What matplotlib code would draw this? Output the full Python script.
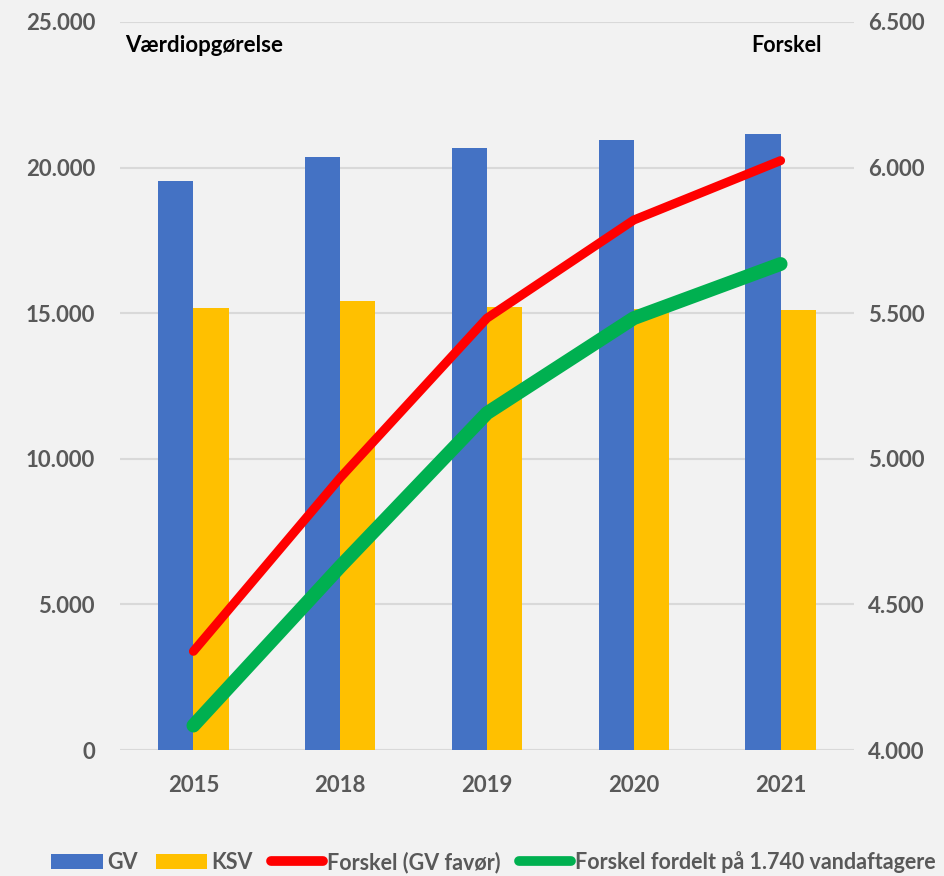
import matplotlib.pyplot as plt
import numpy as np
from matplotlib.ticker import FuncFormatter, MultipleLocator
from matplotlib.patches import Patch
from matplotlib.lines import Line2D

plt.rcParams['font.family'] = ['Lato', 'DejaVu Sans']
plt.rcParams['font.weight'] = 'bold'

# data
years = ['2015', '2018', '2019', '2020', '2021']
gv = [19550, 20370, 20670, 20950, 21140]
ksv = [15190, 15420, 15210, 15140, 15110]
forskel = [4339, 4935, 5483, 5820, 6024]
forskel_fordelt = [4084, 4630, 5157, 5483, 5669]

BLUE = '#4472C4'
YELLOW = '#FFC000'
RED = '#FF0000'
GREEN = '#00B050'
BG = '#F2F2F2'
GRAY = '#595959'


def dot_fmt(v, pos):
    return f'{int(round(v)):,}'.replace(',', '.')


fig = plt.figure(figsize=(9.45, 8.76), dpi=100, facecolor=BG)
ax = fig.add_axes([0.127, 0.1438, 0.7767, 0.8311], facecolor=BG)

x = np.arange(len(years))
w = 0.24
ax.bar(x - w / 2, gv, w, color=BLUE, zorder=2)
ax.bar(x + w / 2, ksv, w, color=YELLOW, zorder=2)

ax.set_xlim(-0.5, len(years) - 0.5)
ax.set_ylim(0, 25000)
ax.yaxis.set_major_locator(MultipleLocator(5000))
ax.yaxis.set_major_formatter(FuncFormatter(dot_fmt))
ax.set_xticks(x)
ax.set_xticklabels(years)
ax.grid(axis='y', color='#D9D9D9', linewidth=1.5, zorder=0)
ax.set_axisbelow(True)
for s in ax.spines.values():
    s.set_visible(False)
ax.tick_params(axis='y', length=0, pad=18, labelsize=16, labelcolor=GRAY)
ax.tick_params(axis='x', length=0, pad=18, labelsize=16, labelcolor=GRAY)

ax2 = ax.twinx()
ax2.plot(x, forskel, color=RED, lw=6.5, solid_capstyle='round',
         solid_joinstyle='round', zorder=3)
ax2.plot(x, forskel_fordelt, color=GREEN, lw=10, solid_capstyle='round',
         solid_joinstyle='round', zorder=3)
ax2.set_ylim(4000, 6500)
ax2.yaxis.set_major_locator(MultipleLocator(500))
ax2.yaxis.set_major_formatter(FuncFormatter(dot_fmt))
for s in ax2.spines.values():
    s.set_visible(False)
ax2.tick_params(axis='y', length=0, pad=10, labelsize=16, labelcolor=GRAY)

fig.text(125 / 945, 1 - 45 / 876, 'Værdiopgørelse', fontsize=16,
         fontweight='bold', color='black', va='center', ha='left')
fig.text(822 / 945, 1 - 45 / 876, 'Forskel', fontsize=15.5,
         fontweight='bold', color='black', va='center', ha='right')

handles = [
    Patch(facecolor=BLUE),
    Patch(facecolor=YELLOW),
    Line2D([], [], color=RED, lw=7, solid_capstyle='round'),
    Line2D([], [], color=GREEN, lw=7, solid_capstyle='round'),
]
labels = ['GV', 'KSV', 'Forskel (GV favør)', 'Forskel fordelt på 1.740 vandaftagere']
leg = fig.legend(handles, labels, loc='center', bbox_to_anchor=(0.522, 1 - 862 / 876),
                 ncol=4, frameon=False, handlelength=2.4, handleheight=0.7,
                 handletextpad=0.2, columnspacing=0.85, borderpad=0,
                 prop={'size': 15.5, 'weight': 'bold'})
for t in leg.get_texts():
    t.set_color(GRAY)

fig.savefig('out.png', dpi=100, facecolor=BG)
